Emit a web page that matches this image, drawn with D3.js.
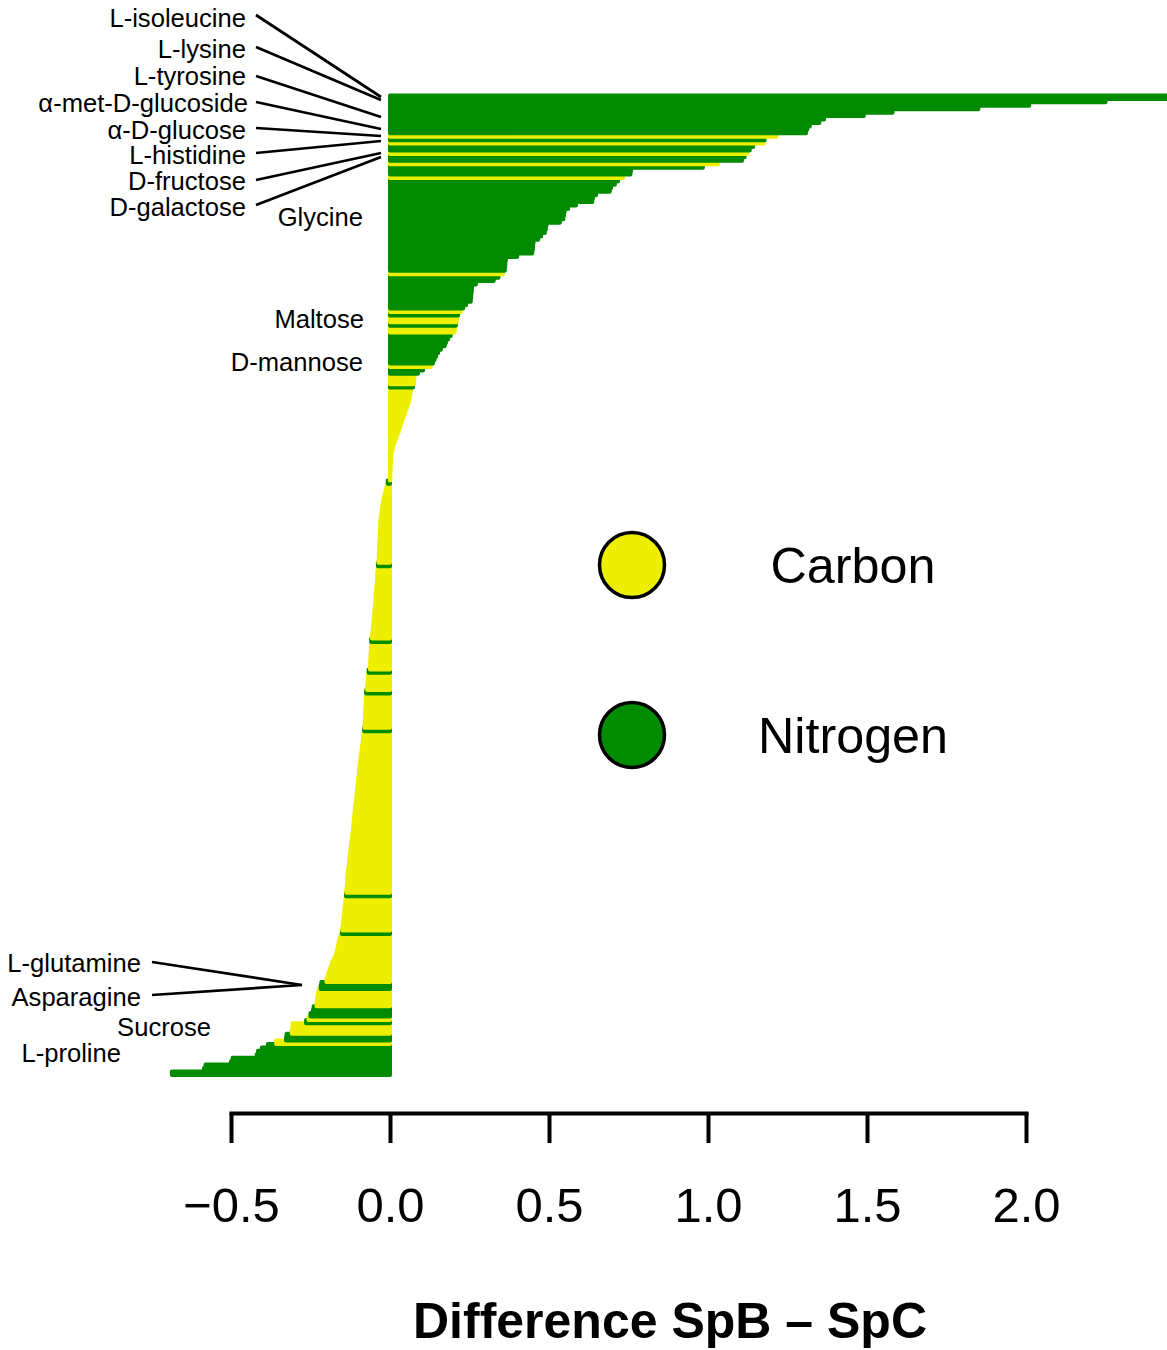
<!DOCTYPE html>
<html>
<head>
<meta charset="utf-8">
<script src="https://cdn.jsdelivr.net/npm/d3@7"></script>
<style>
  body { margin: 0; background: #ffffff; }
  text { font-family: "Liberation Sans", Arial, Helvetica, sans-serif; }
</style>
</head>
<body>
<script>
// differences SpB - SpC, one per substrate, top bar first
var diffs = [
   2.48,  2.25,  2.01,  1.85,  1.58,  1.49,  1.365, 1.35,  1.32,  1.312,
   1.308, 1.215, 1.178, 1.175, 1.142, 1.131, 1.123, 1.115, 1.107, 1.031,
   0.984, 0.758, 0.756, 0.733, 0.717, 0.707, 0.695, 0.691, 0.648, 0.638,
   0.636, 0.585, 0.560, 0.549, 0.547, 0.545, 0.534, 0.492, 0.490, 0.487,
   0.475, 0.466, 0.451, 0.450, 0.449, 0.447, 0.400, 0.364, 0.363, 0.362,
   0.361, 0.355, 0.341, 0.326, 0.270, 0.258, 0.257, 0.256, 0.255, 0.254,
   0.239, 0.230, 0.222, 0.214, 0.211, 0.210, 0.207, 0.204, 0.203, 0.191,
   0.183, 0.176, 0.172, 0.160, 0.151, 0.145, 0.140, 0.135, 0.128, 0.104,
   0.088, 0.077, 0.076, 0.075, 0.072, 0.066, 0.064, 0.062, 0.060, 0.057,
   0.053, 0.049, 0.046, 0.042, 0.038, 0.034, 0.031, 0.027, 0.023, 0.019,
   0.015, 0.011, 0.008, 0.005, 0.004, 0.003, 0.003, 0.002, 0.002, 0.001,
   0.001, 0.001,-0.007,-0.009,-0.012,-0.015,-0.017,-0.020,-0.022,-0.024,
  -0.025,-0.027,-0.028,-0.030,-0.030,-0.031,-0.031,-0.032,-0.032,-0.033,
  -0.033,-0.034,-0.034,-0.035,-0.035,-0.036,-0.038,-0.038,-0.039,-0.040,
  -0.040,-0.041,-0.042,-0.043,-0.044,-0.045,-0.045,-0.046,-0.047,-0.048,
  -0.049,-0.050,-0.051,-0.052,-0.053,-0.054,-0.055,-0.057,-0.059,-0.059,
  -0.060,-0.060,-0.061,-0.061,-0.062,-0.062,-0.063,-0.067,-0.068,-0.069,
  -0.070,-0.071,-0.072,-0.075,-0.075,-0.076,-0.076,-0.077,-0.077,-0.078,
  -0.078,-0.079,-0.079,-0.080,-0.081,-0.082,-0.084,-0.085,-0.086,-0.088,
  -0.089,-0.090,-0.092,-0.093,-0.094,-0.096,-0.097,-0.098,-0.099,-0.100,
  -0.101,-0.103,-0.104,-0.105,-0.106,-0.107,-0.109,-0.110,-0.111,-0.112,
  -0.113,-0.114,-0.115,-0.116,-0.117,-0.119,-0.120,-0.122,-0.123,-0.124,
  -0.125,-0.127,-0.128,-0.129,-0.130,-0.132,-0.133,-0.134,-0.134,-0.135,
  -0.136,-0.137,-0.138,-0.139,-0.140,-0.141,-0.143,-0.144,-0.145,-0.146,
  -0.147,-0.148,-0.150,-0.151,-0.155,-0.158,-0.161,-0.163,-0.165,-0.167,
  -0.171,-0.176,-0.182,-0.185,-0.189,-0.193,-0.196,-0.200,-0.216,-0.218,
  -0.224,-0.226,-0.228,-0.229,-0.231,-0.240,-0.242,-0.250,-0.256,-0.264,
  -0.306,-0.307,-0.309,-0.325,-0.327,-0.358,-0.384,-0.403,-0.415,-0.419,
  -0.495,-0.500,-0.580,-0.585,-0.686
];

// C = carbon source, N = nitrogen source (same order as diffs, 10 per line)
var sources = [
  "NNNNNNNNNN", "NCNCNNCNNC", "NNNCNNNNNN", "NNNNNNNNNN", "NNNNNNNNNN",
  "NCNNNNNNNN", "NNCNCCNCCN", "NNNNNNNNCN", "NCCCNCCCCC", "CCCCCCCCCC",
  "CCCCCCCCCC", "CCNCCCCCCC", "CCCCCCCCCC", "CCCCCCNCCC", "CCCCCCCCCC",
  "CCCCCCCCNC", "CCCCCCCNCC", "CCCNCCCCCC", "CCCCNCCCCC", "CCCCCCCCCC",
  "CCCCCCCCCC", "CCCCCCCCCC", "CCCCCCCCCC", "CCNCCCCCCC", "CCCNCCCCCC",
  "CCCCCCCCNN", "CCCCCNNNCN", "CCCNNCNNNN", "NNNNN"
].join("").split("");

var tickValues = [-0.5, 0, 0.5, 1, 1.5, 2];
var legendNames = ["Carbon", "Nitrogen"];
var legendKeys = ["C", "N"];

// labelled substrates: text, right edge, middle
var labels = [
  ["L-isoleucine", 246, 18], ["L-lysine", 246, 49], ["L-tyrosine", 246, 76],
  ["\u03b1-met-D-glucoside", 248, 103], ["\u03b1-D-glucose", 246, 130],
  ["L-histidine", 246, 155], ["D-fructose", 246, 181], ["D-galactose", 246, 207],
  ["Glycine", 363, 217], ["Maltose", 364, 319], ["D-mannose", 363, 362],
  ["L-glutamine", 141, 963], ["Asparagine", 141, 997], ["Sucrose", 211, 1027],
  ["L-proline", 121, 1053]
];
var pointers = [
  [256, 15, 381, 97], [256, 47, 381, 100], [256, 76, 381, 117],
  [256, 102, 381, 129], [256, 128, 381, 136], [256, 153, 381, 141],
  [256, 180, 381, 153], [256, 205, 381, 157],
  [152, 962, 302, 985], [152, 995, 302, 985]
];

var colour = { C: "#eeee00", N: "#008b00" };

var svg = d3.select("body").append("svg")
    .attr("width", 1167)
    .attr("height", 1350);

var x = d3.scaleLinear().domain([-0.5, 2]).range([231, 1026]);
var y = d3.scaleBand().domain(d3.range(diffs.length)).range([95.5, 1074.9]);

var rows = diffs.map(function(d, i) { return { v: d, i: i, s: sources[i] }; });

// bars: bottom ones first so each bar sits on top of the one below
svg.append("g").selectAll("rect")
    .data(rows.slice().reverse())
    .enter().append("rect")
    .attr("x", function(d) { return x(Math.min(0, d.v)); })
    .attr("width", function(d) { return Math.abs(x(d.v) - x(0)); })
    .attr("y", function(d) { return y(d.i); })
    .attr("height", y.bandwidth())
    .attr("fill", function(d) { return colour[d.s]; })
    .attr("stroke", function(d) { return colour[d.s]; })
    .attr("stroke-width", 4)
    .attr("stroke-linejoin", "round");

// labels and pointer lines
svg.append("g").selectAll("text")
    .data(labels)
    .enter().append("text")
    .attr("x", function(d) { return d[1]; })
    .attr("y", function(d) { return d[2]; })
    .attr("dy", "0.36em")
    .attr("text-anchor", "end")
    .attr("font-size", 25.6)
    .text(function(d) { return d[0]; });

svg.append("g").selectAll("line")
    .data(pointers)
    .enter().append("line")
    .attr("x1", function(d) { return d[0]; })
    .attr("y1", function(d) { return d[1]; })
    .attr("x2", function(d) { return d[2]; })
    .attr("y2", function(d) { return d[3]; })
    .attr("stroke", "#000")
    .attr("stroke-width", 2.7);

// x axis
var axis = svg.append("g")
    .attr("transform", "translate(0,1113)")
    .call(d3.axisBottom(x)
        .tickValues(tickValues)
        .tickSize(30)
        .tickSizeOuter(0)
        .tickPadding(44)
        .tickFormat(d3.format(".1f")));

axis.select(".domain").attr("stroke-width", 4).attr("stroke-linecap", "square");
axis.selectAll(".tick line").attr("stroke-width", 4);
axis.selectAll(".tick text")
    .attr("font-size", 49)
    .attr("font-family", "Liberation Sans, Arial, sans-serif")
    .attr("fill", "#000");

svg.append("text")
    .attr("x", 670)
    .attr("y", 1338)
    .attr("text-anchor", "middle")
    .attr("font-size", 50)
    .attr("font-weight", "bold")
    .text("Difference SpB \u2013 SpC");

// legend
var legend = svg.append("g").selectAll("g")
    .data(legendNames)
    .enter().append("g")
    .attr("transform", function(d, i) { return "translate(0," + (565 + i * 170) + ")"; });

legend.append("circle")
    .attr("cx", 632)
    .attr("r", 32.5)
    .attr("fill", function(d, i) { return colour[legendKeys[i]]; })
    .attr("stroke", "#000")
    .attr("stroke-width", 3.5);

legend.append("text")
    .attr("x", 853)
    .attr("dy", "0.36em")
    .attr("text-anchor", "middle")
    .attr("font-size", 50.3)
    .text(function(d) { return d; });
</script>
</body>
</html>
